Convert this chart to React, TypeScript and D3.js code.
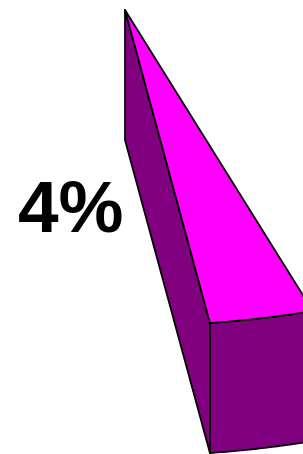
import React from "react";
import { scaleLinear, range, line } from "d3";

const width = 303;
const height = 454;

// the one slice that shows in the crop
const sliceLabels = ["4%"];
const sliceValues = [4];

// ellipse of the tilted pie, apex at the slice's point
const cx = 125;
const cy = 10;
const rx = 618;
const ry = 316;
const depth = 130;
const startAngle = (82.1 * Math.PI) / 180;

const topColor = "#ff00ff";
const sideColor = "#800080";

// percent -> sweep (foreshortened by the view)
const sweep = scaleLinear()
  .domain([0, 100])
  .range([0, (245 * Math.PI) / 180]);

const px = (a: number) => cx + rx * Math.cos(a);
const py = (a: number, dz = 0) => cy + ry * Math.sin(a) + dz;

const path = line<[number, number]>()
  .x((d) => d[0])
  .y((d) => d[1]);

export default function App() {
  const a0 = startAngle;
  const a1 = startAngle - sweep(sliceValues[0]);
  const steps = range(0, 41).map((i) => a0 + ((a1 - a0) * i) / 40);

  const arcTop: [number, number][] = steps.map((a) => [px(a), py(a)]);
  const arcBottom: [number, number][] = steps
    .map((a) => [px(a), py(a, depth)] as [number, number])
    .reverse();

  const topFace = path([[cx, cy], ...arcTop])! + "Z";
  const frontFace = path([...arcTop, ...arcBottom])! + "Z";
  const sideFace =
    path([
      [cx, cy],
      [px(a0), py(a0)],
      [px(a0), py(a0, depth)],
      [cx, cy + depth],
    ])! + "Z";

  return (
    <svg
      width={width}
      height={height}
      style={{ position: "absolute", left: 0, top: 0 }}
    >
      <g stroke="#000" strokeWidth={1.8} strokeLinejoin="round">
        <path d={sideFace} fill={sideColor} />
        <path d={frontFace} fill={sideColor} />
        <path d={topFace} fill={topColor} />
      </g>
      <text
        x={18}
        y={232}
        fontFamily="Liberation Sans, Arial, sans-serif"
        fontWeight="bold"
        fontSize={73}
        fill="#000"
      >
        {sliceLabels[0]}
      </text>
    </svg>
  );
}
